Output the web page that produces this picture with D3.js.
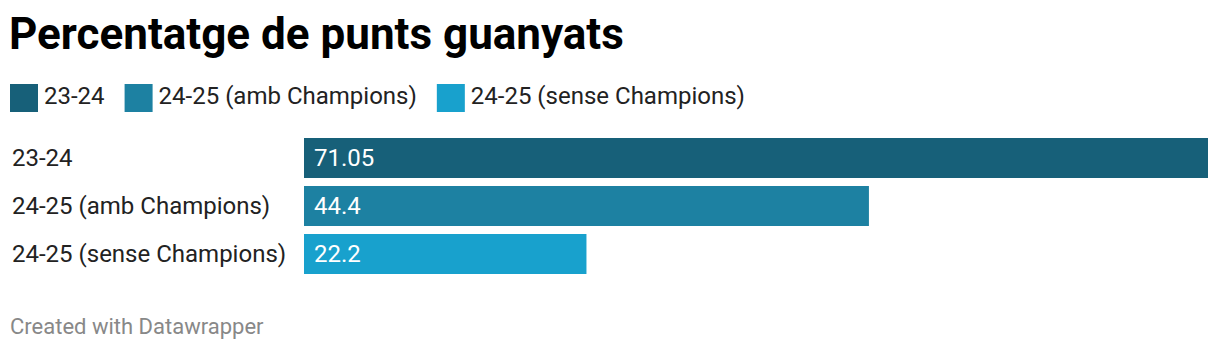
<!DOCTYPE html>
<html><head><meta charset="utf-8">
<script src="https://cdn.jsdelivr.net/npm/d3@7"></script>
<style>body{margin:0;background:#fff;} svg{display:block;font-family:Roboto,sans-serif;}</style>
</head><body><svg id="c" width="1220" height="352"></svg>
<script>
const categories = ["23-24", "24-25 (amb Champions)", "24-25 (sense Champions)"];
const values = [71.05, 44.4, 22.2];
const valueLabels = ["71.05", "44.4", "22.2"];
const colors = ["#176079", "#1d81a2", "#18a1cd"];

const svg = d3.select("#c");
svg.append("text").attr("x", 9).attr("y", 49).attr("font-size", 44).attr("font-weight", 700).attr("fill", "#000").text("Percentatge de punts guanyats");

// legend
const legend = svg.append("g");
let lx = 10;
categories.forEach((c, i) => {
  const g = legend.append("g").attr("transform", `translate(${lx},84)`);
  g.append("rect").attr("width", 28).attr("height", 28).attr("fill", colors[i]);
  const t = g.append("text").attr("x", 34).attr("y", 20).attr("font-size", 24).attr("fill", "#222").text(c);
  lx += 34 + t.node().getComputedTextLength() + 20;
});

const x = d3.scaleLinear().domain([0, d3.max(values)]).range([304, 1208]);
const y = d3.scaleBand().domain(categories).range([138, 274]).paddingInner(8 / 48).paddingOuter(0);

const rows = svg.selectAll("g.row").data(categories).join("g").attr("class", "row");
rows.append("rect").attr("x", x(0)).attr("y", d => y(d)).attr("height", y.bandwidth())
  .attr("width", (d, i) => x(values[i]) - x(0)).attr("fill", (d, i) => colors[i]);
rows.append("text").attr("x", 12).attr("y", d => y(d) + 28).attr("font-size", 24).attr("fill", "#222").text(d => d);
rows.append("text").attr("x", x(0) + 10).attr("y", d => y(d) + 28).attr("font-size", 24).attr("fill", "#fff").text((d, i) => valueLabels[i]);

svg.append("text").attr("x", 10).attr("y", 334).attr("font-size", 22).attr("fill", "#888").text("Created with Datawrapper");
</script></body></html>
